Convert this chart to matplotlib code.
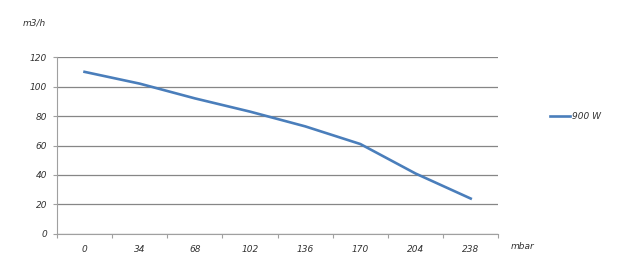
import matplotlib.pyplot as plt
import numpy as np

categories = ['0', '34', '68', '102', '136', '170', '204', '238']
flow_900w = [110, 102, 92, 83, 73, 61, 41, 24]
y_ticks = [0, 20, 40, 60, 80, 100, 120]

plt.rcParams['font.family'] = ['DejaVu Sans']
fnt = dict(fontsize=6.5, style='italic', color='#333333')

fig = plt.figure(figsize=(6.19, 2.72), dpi=100)
ax = fig.add_axes([0.092, 0.14, 0.713, 0.65])

x = np.arange(len(categories))
line, = ax.plot(x, flow_900w, color='#4a7ebb', lw=1.9, label='900 W')

ax.set_xlim(-0.5, len(categories) - 0.5)
ax.set_ylim(0, 120)
ax.set_yticks(y_ticks)
ax.set_yticklabels([str(v) for v in y_ticks], **fnt)
ax.yaxis.grid(True, color='#868686', lw=0.9)
ax.set_axisbelow(True)

ax.set_xticks(np.arange(-0.5, len(categories)), minor=False)
ax.set_xticklabels([])
ax.set_xticks(x, minor=True)
ax.set_xticklabels(categories, minor=True, **fnt)
ax.tick_params(axis='x', which='minor', length=0, pad=8)
ax.tick_params(axis='x', which='major', length=3, color='#a0a0a0')
ax.tick_params(axis='y', length=3, color='#a0a0a0', pad=4)

for s in ['top', 'right']:
    ax.spines[s].set_visible(False)
for s in ['left', 'bottom']:
    ax.spines[s].set_color('#a0a0a0')

fig.text(0.036, 0.905, 'm3/h', **fnt)
fig.text(0.825, 0.083, 'mbar', **fnt)

leg = fig.legend(handles=[line], loc='center left', bbox_to_anchor=(0.875, 0.57),
                 frameon=False, prop=dict(size=6.5, style='italic'),
                 handlelength=2.2, handletextpad=0.3)
for t in leg.get_texts():
    t.set_color('#333333')

fig.savefig('out.png', dpi=100)
